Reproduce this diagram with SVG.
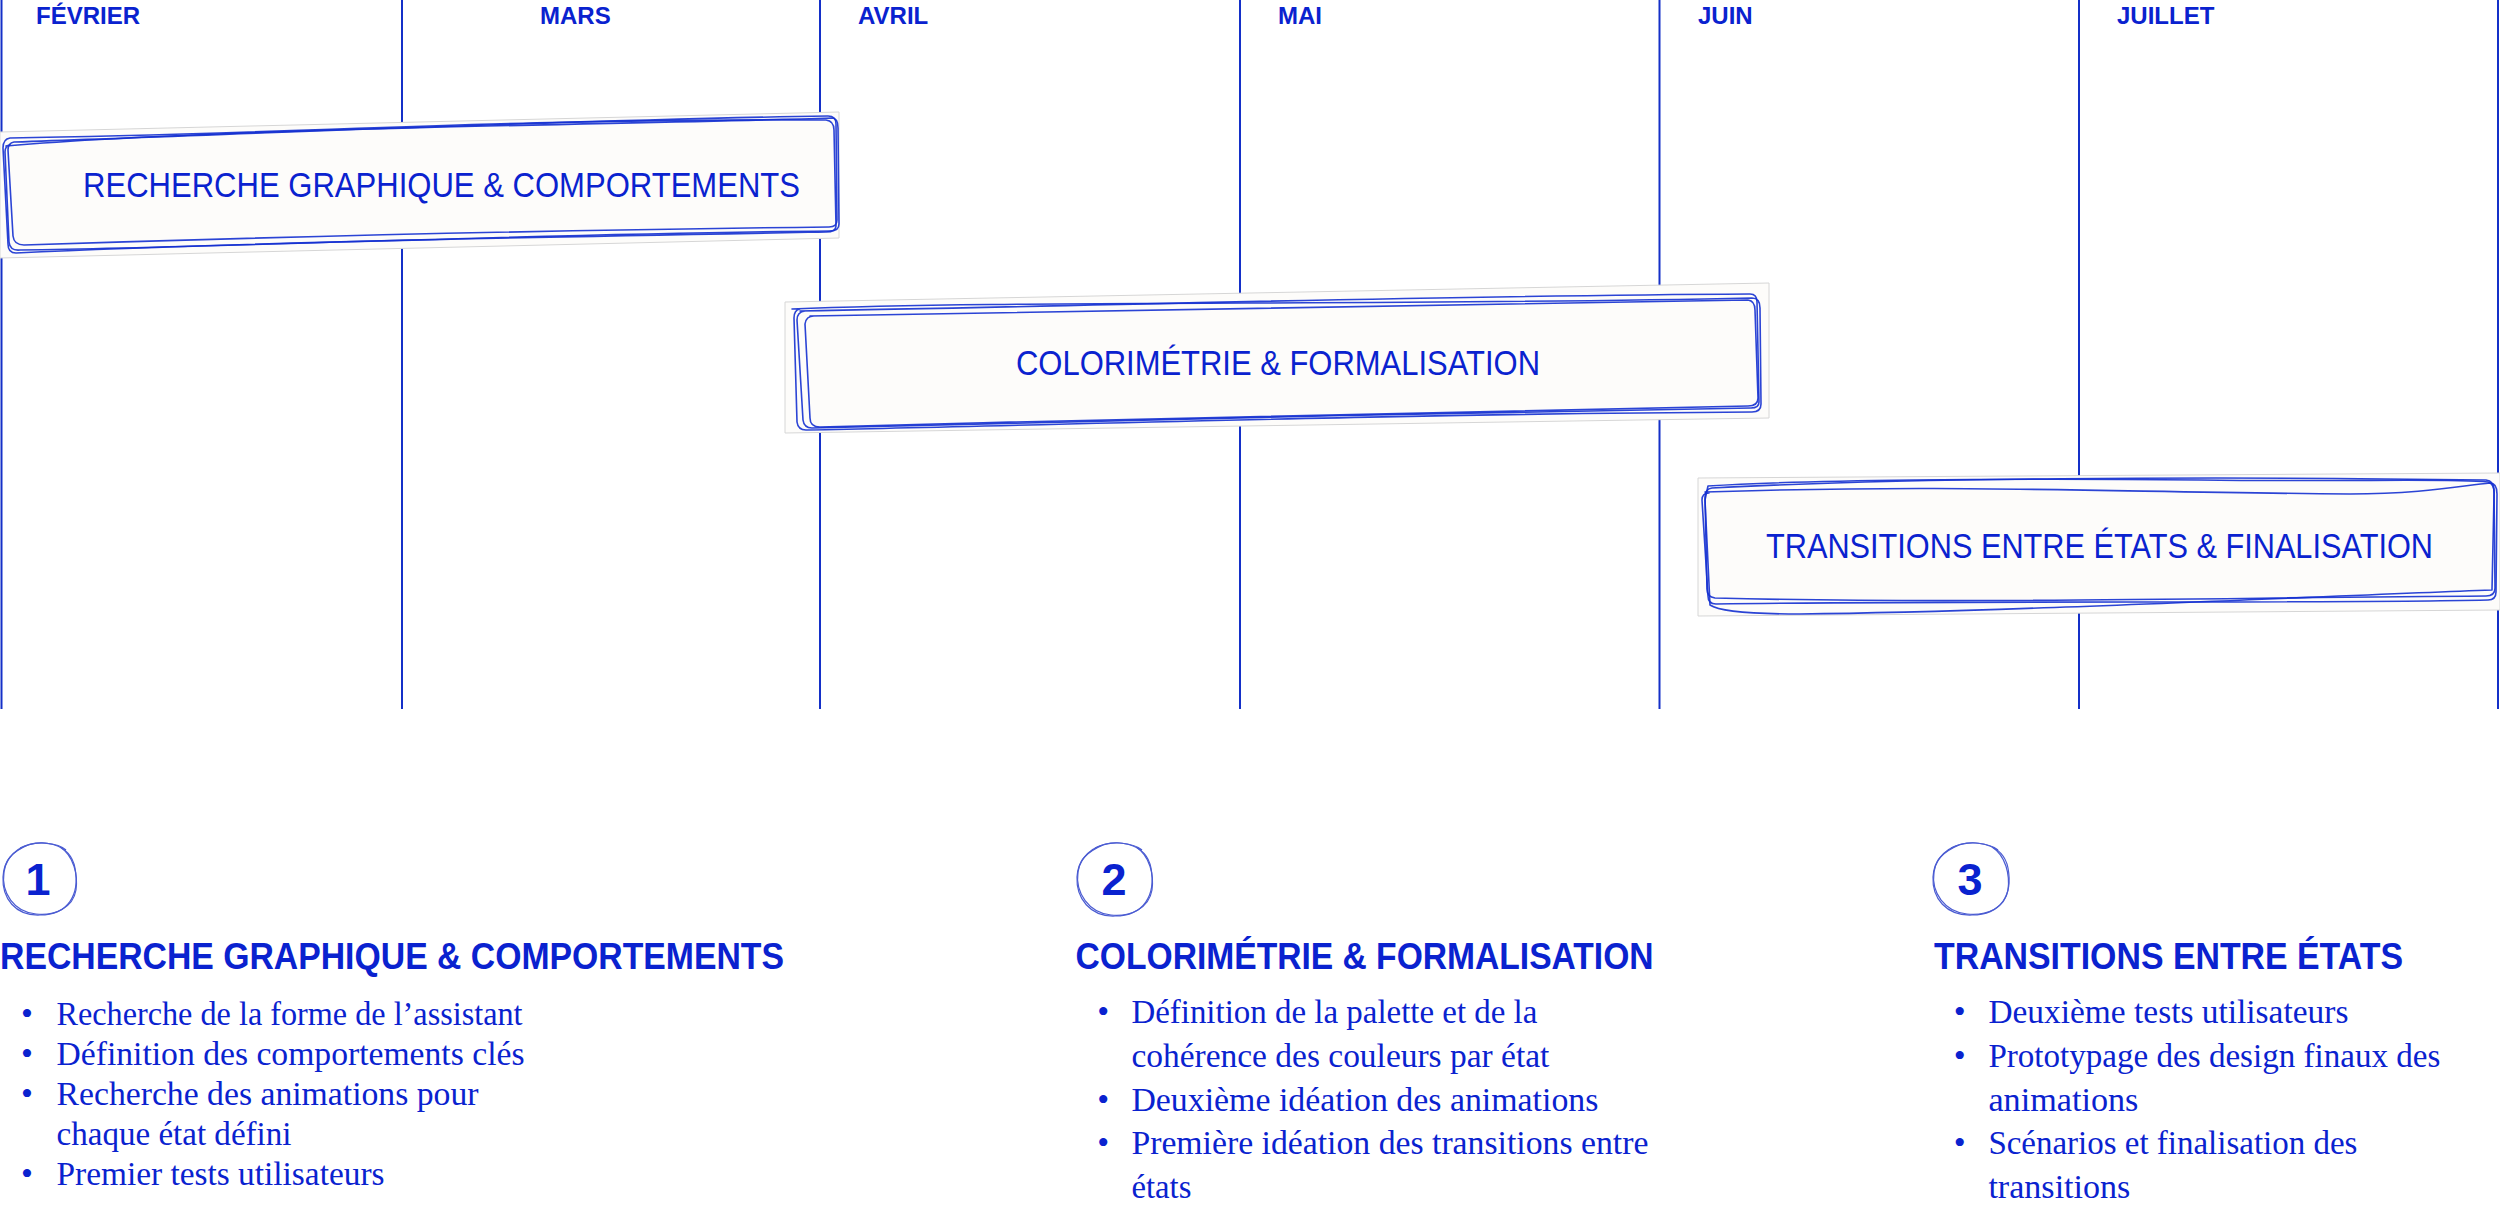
<svg xmlns="http://www.w3.org/2000/svg" width="2500" height="1212" viewBox="0 0 2500 1212">
<style>
.month{font-family:"Liberation Sans",Arial,sans-serif;font-weight:700;font-size:24px;fill:#0A22CF}
.grid{stroke:#1430C8;stroke-width:2;fill:none}
.bg{fill:#FDFCFA;stroke:#D6D6D6;stroke-width:1}
.sk{fill:none;stroke:#1430D0;stroke-width:1.6;stroke-linejoin:round;stroke-linecap:round;opacity:0.9}
.btxt{font-family:"Liberation Sans",Arial,sans-serif;font-size:35px;fill:#0A22CF}
.num{font-family:"Liberation Sans",Arial,sans-serif;font-weight:700;font-size:45px;fill:#0A22CF;text-anchor:middle}
.circ{fill:none;stroke:#4B5CD2;stroke-width:1.2}
.head{font-family:"Liberation Sans",Arial,sans-serif;font-weight:700;font-size:36px;fill:#0A22CF}
.li{font-family:"Liberation Serif","Times New Roman",serif;font-size:34px;fill:#0A22CF}
.dot{font-family:"Liberation Serif","Times New Roman",serif;font-size:34px;fill:#0A22CF;text-anchor:middle}
</style>
<rect width="2500" height="1212" fill="#FFFFFF"/>
<g id="grid">
<line class="grid" x1="1.5" y1="0" x2="1.5" y2="709"/>
<line class="grid" x1="402" y1="0" x2="402" y2="709"/>
<line class="grid" x1="820" y1="0" x2="820" y2="709"/>
<line class="grid" x1="1240" y1="0" x2="1240" y2="709"/>
<line class="grid" x1="1659.5" y1="0" x2="1659.5" y2="709"/>
<line class="grid" x1="2079" y1="0" x2="2079" y2="709"/>
<line class="grid" x1="2498" y1="0" x2="2498" y2="709"/>
</g>
<g id="months">
<text class="month" x="36" y="24">FÉVRIER</text>
<text class="month" x="540" y="24">MARS</text>
<text class="month" x="858" y="24">AVRIL</text>
<text class="month" x="1278" y="24">MAI</text>
<text class="month" x="1698" y="24">JUIN</text>
<text class="month" x="2117" y="24">JUILLET</text>
</g>
<g id="phase1">
<polygon class="bg" points="0,132 839,112 839,238 0,258"/>
<path class="sk" d="M14,142 C250,134 560,120 828,116 Q836,116 836,124 L837,220 Q837,227 829,227 C560,230 300,236 24,245 Q14,245 13,236 L8,150 Q8,143 14,142 Z"/>
<path class="sk" d="M6,146 C220,128 600,125 832,118 Q838,118 838,128 L839,224 Q839,231 830,231 C550,233 280,246 20,250 Q10,251 9,242 L5,152 Q5,146 10,145 Z"/>
<path class="sk" d="M10,138 C300,134 500,118 826,120 Q834,121 834,130 L836,226 Q836,232 826,232 C600,236 250,242 16,253 Q8,253 8,244 L3,148 Q3,139 10,138 Z"/>
<text class="btxt" x="83" y="197" textLength="717" lengthAdjust="spacingAndGlyphs">RECHERCHE GRAPHIQUE &amp; COMPORTEMENTS</text>
</g>
<g id="phase2">
<polygon class="bg" points="785,302 1769,283 1769,418 785,433"/>
<path class="sk" d="M800,311 C1100,306 1400,296 1750,294 Q1757,294 1757,302 L1759,402 Q1759,408 1751,408 C1450,413 1100,420 812,428 Q804,428 803,420 L797,320 Q797,312 805,311 Z"/>
<path class="sk" d="M792,309 C1000,300 1400,306 1752,298 Q1760,298 1760,308 L1761,404 Q1761,412 1752,412 C1400,414 1100,424 806,430 Q798,430 797,422 L794,318 Q794,310 800,309"/>
<path class="sk" d="M810,316 C1200,312 1500,304 1748,300 Q1755,301 1755,310 L1758,398 Q1758,406 1748,406 C1500,410 1150,418 820,427 Q810,427 810,418 L805,324 Q806,316 814,316 Z"/>
<text class="btxt" x="1016" y="375" textLength="524" lengthAdjust="spacingAndGlyphs">COLORIMÉTRIE &amp; FORMALISATION</text>
</g>
<g id="phase3">
<polygon class="bg" points="1698,478 2500,473 2500,610 1698,616"/>
<path class="sk" d="M1712,488 C1900,478 2200,476 2486,480 Q2494,481 2494,490 L2495,588 Q2495,596 2486,596 C2200,598 1950,604 1715,598 Q1707,597 1707,589 L1705,497 Q1705,489 1712,488 Z"/>
<path class="sk" d="M1705,492 C1950,484 2100,492 2350,494 C2420,494 2460,486 2490,483 Q2497,483 2497,494 L2496,592 Q2496,600 2488,600 C2300,604 2000,600 1716,604 Q1708,604 1708,596 L1702,500 Q1702,493 1709,493 Z"/>
<path class="sk" d="M1708,486 C1800,480 2000,478 2200,480 C2350,482 2450,478 2488,482 Q2495,484 2494,496 L2492,590 C2300,597 2000,612 1800,614 C1760,614 1720,612 1710,605 L1705,500 Z"/>
<text class="btxt" x="1766" y="558" textLength="667" lengthAdjust="spacingAndGlyphs">TRANSITIONS ENTRE ÉTATS &amp; FINALISATION</text>
</g>
<g id="section1">
<path class="circ" d="M20,848 C40,838 70,842 75,868 C80,895 68,915 40,915 C15,916 2,898 3,877 C4,860 12,852 28,845"/>
<path class="circ" d="M60,847 C74,856 78,875 76,890 C73,908 55,916 36,914 C14,912 1,893 4,872 C7,852 25,842 45,843 C55,844 62,846 66,850"/>
<text class="num" x="38" y="895">1</text>
<text class="head" x="0" y="969" textLength="784" lengthAdjust="spacingAndGlyphs">RECHERCHE GRAPHIQUE &amp; COMPORTEMENTS</text>
<text class="dot" x="27" y="1025">•</text>
<text class="li" x="56.5" y="1025" textLength="466" lengthAdjust="spacingAndGlyphs">Recherche de la forme de l’assistant</text>
<text class="dot" x="27" y="1065">•</text>
<text class="li" x="56.5" y="1065" textLength="468" lengthAdjust="spacingAndGlyphs">Définition des comportements clés</text>
<text class="dot" x="27" y="1105">•</text>
<text class="li" x="56.5" y="1105" textLength="422" lengthAdjust="spacingAndGlyphs">Recherche des animations pour</text>
<text class="li" x="56.5" y="1145" textLength="235" lengthAdjust="spacingAndGlyphs">chaque état défini</text>
<text class="dot" x="27" y="1185">•</text>
<text class="li" x="56.5" y="1185" textLength="328" lengthAdjust="spacingAndGlyphs">Premier tests utilisateurs</text>
</g>
<g id="section2">
<path class="circ" d="M1095,848 C1115,838 1146,842 1151,868 C1156,895 1144,916 1115,916 C1090,917 1076,898 1077,877 C1078,860 1087,852 1103,845"/>
<path class="circ" d="M1136,847 C1150,856 1154,875 1152,890 C1149,908 1131,917 1111,915 C1089,913 1075,893 1078,872 C1081,852 1100,842 1120,843 C1130,844 1138,846 1142,850"/>
<text class="num" x="1114" y="895">2</text>
<text class="head" x="1075.6" y="969" textLength="578" lengthAdjust="spacingAndGlyphs">COLORIMÉTRIE &amp; FORMALISATION</text>
<text class="dot" x="1103.3" y="1023">•</text>
<text class="li" x="1131.4" y="1023" textLength="406" lengthAdjust="spacingAndGlyphs">Définition de la palette et de la</text>
<text class="li" x="1131.4" y="1067" textLength="418" lengthAdjust="spacingAndGlyphs">cohérence des couleurs par état</text>
<text class="dot" x="1103.3" y="1111">•</text>
<text class="li" x="1131.4" y="1111" textLength="467" lengthAdjust="spacingAndGlyphs">Deuxième idéation des animations</text>
<text class="dot" x="1103.3" y="1154">•</text>
<text class="li" x="1131.4" y="1154" textLength="517" lengthAdjust="spacingAndGlyphs">Première idéation des transitions entre</text>
<text class="li" x="1131.4" y="1198" textLength="60" lengthAdjust="spacingAndGlyphs">états</text>
</g>
<g id="section3">
<path class="circ" d="M1951,848 C1971,838 2003,842 2008,868 C2013,895 2001,915 1972,915 C1946,916 1932,898 1933,877 C1934,860 1943,852 1959,845"/>
<path class="circ" d="M1992,847 C2006,856 2010,875 2008,890 C2005,908 1987,916 1967,914 C1945,912 1931,893 1934,872 C1937,852 1956,842 1976,843 C1986,844 1994,846 1998,850"/>
<text class="num" x="1970" y="895">3</text>
<text class="head" x="1934" y="969" textLength="469" lengthAdjust="spacingAndGlyphs">TRANSITIONS ENTRE ÉTATS</text>
<text class="dot" x="1959.6" y="1023">•</text>
<text class="li" x="1988.4" y="1023" textLength="360" lengthAdjust="spacingAndGlyphs">Deuxième tests utilisateurs</text>
<text class="dot" x="1959.6" y="1067">•</text>
<text class="li" x="1988.4" y="1067" textLength="452" lengthAdjust="spacingAndGlyphs">Prototypage des design finaux des</text>
<text class="li" x="1988.4" y="1111" textLength="150" lengthAdjust="spacingAndGlyphs">animations</text>
<text class="dot" x="1959.6" y="1154">•</text>
<text class="li" x="1988.4" y="1154" textLength="369" lengthAdjust="spacingAndGlyphs">Scénarios et finalisation des</text>
<text class="li" x="1988.4" y="1198" textLength="142" lengthAdjust="spacingAndGlyphs">transitions</text>
</g>
</svg>
